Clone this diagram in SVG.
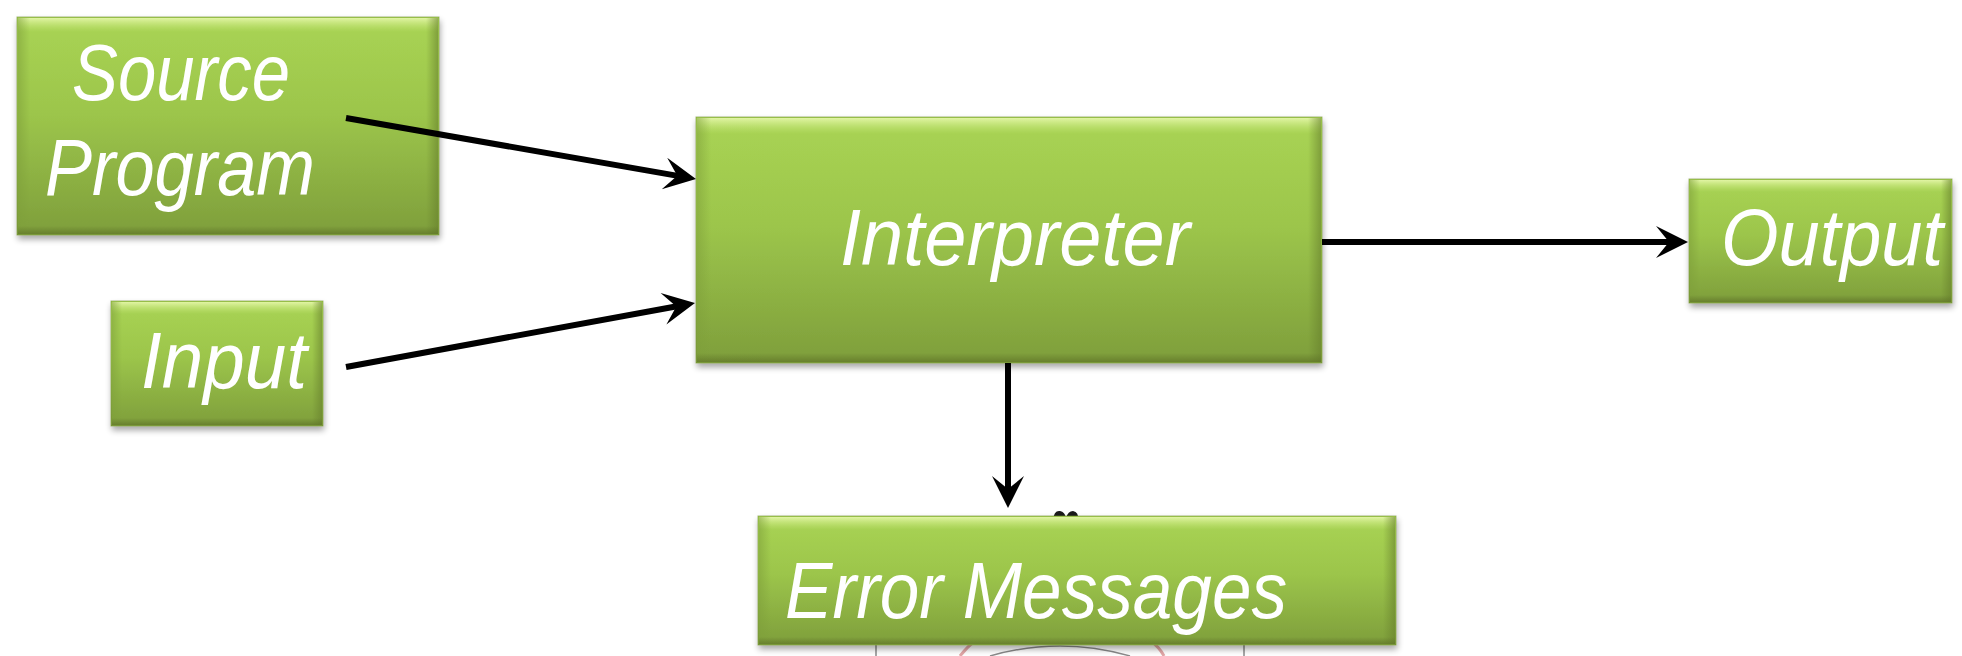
<svg xmlns="http://www.w3.org/2000/svg" width="1962" height="656" viewBox="0 0 1962 656">
  <style>
    .box { fill: url(#boxFill); stroke: #6f8c32; stroke-width: 1; stroke-opacity: 0.6; filter: url(#dropShadow); }
    .bevelTop { fill: url(#bevelTop); }
    .bevelLeft { fill: url(#bevelLeft); }
    .bevelRight { fill: url(#bevelRight); }
    .bevelBottom { fill: url(#bevelBottom); }
    .label { fill: #ffffff; font-family: "Liberation Sans", Arial, sans-serif; font-style: italic; font-size: 80px; }
    .wire { fill: none; stroke: #000000; stroke-width: 6; marker-end: url(#stealth); }
    .scrap { fill: none; stroke: #8a8a8a; stroke-width: 1.5; }
  </style>
  <defs>
    <linearGradient id="boxFill" x1="0" y1="0" x2="0" y2="1">
      <stop offset="0" stop-color="#a9d454"/>
      <stop offset="0.45" stop-color="#9cc54b"/>
      <stop offset="1" stop-color="#7e9e3b"/>
    </linearGradient>
    <linearGradient id="bevelTop" x1="0" y1="0" x2="0" y2="1">
      <stop offset="0" stop-color="#e4f6a8" stop-opacity="0.95"/>
      <stop offset="1" stop-color="#c6e879" stop-opacity="0"/>
    </linearGradient>
    <linearGradient id="bevelLeft" x1="0" y1="0" x2="1" y2="0">
      <stop offset="0" stop-color="#7e9f3a" stop-opacity="0.55"/>
      <stop offset="1" stop-color="#7e9f3a" stop-opacity="0"/>
    </linearGradient>
    <linearGradient id="bevelRight" x1="1" y1="0" x2="0" y2="0">
      <stop offset="0" stop-color="#667f2c" stop-opacity="0.6"/>
      <stop offset="1" stop-color="#667f2c" stop-opacity="0"/>
    </linearGradient>
    <linearGradient id="bevelBottom" x1="0" y1="1" x2="0" y2="0">
      <stop offset="0" stop-color="#5f7428" stop-opacity="0.7"/>
      <stop offset="1" stop-color="#5f7428" stop-opacity="0"/>
    </linearGradient>
    <filter id="dropShadow" x="-5%" y="-10%" width="110%" height="125%">
      <feGaussianBlur in="SourceAlpha" stdDeviation="3"/>
      <feOffset dx="1" dy="4" result="blur"/>
      <feComponentTransfer><feFuncA type="linear" slope="0.35"/></feComponentTransfer>
      <feMerge><feMergeNode/><feMergeNode in="SourceGraphic"/></feMerge>
    </filter>
    <!-- notched arrowhead; tip sits 14px past the path end -->
    <marker id="stealth" markerUnits="userSpaceOnUse" viewBox="-20 -17 36 34" refX="0" refY="0" markerWidth="36" markerHeight="34" orient="auto" overflow="visible">
      <path d="M14,0 L-18,-16 L-5,0 L-18,16 Z" fill="#000000"/>
    </marker>
  </defs>

  <rect width="1962" height="656" fill="#ffffff"/>

  <!-- fragments of a figure peeking out behind the error box -->
  <g id="backdrop">
    <path class="scrap" d="M876,640 L876,656 M1244,640 L1244,656"/>
    <path class="scrap" d="M990,656 Q1060,636 1130,656" stroke="#9a9a9a"/>
    <path d="M960,656 Q968,646 976,640" fill="none" stroke="#e2a7a7" stroke-width="3"/>
    <path d="M1150,640 Q1160,648 1164,656" fill="none" stroke="#e2a7a7" stroke-width="3"/>
    <path d="M1053,520 Q1054,510 1060,511 Q1065,512 1066,518 Q1068,511 1073,511 Q1079,512 1078,520 Z" fill="#1a1a1a"/>
  </g>

  <g id="node-source">
    <rect class="box" x="17" y="17" width="422" height="218"/>
    <rect class="bevelTop" x="18" y="18" width="420" height="14"/>
    <rect class="bevelLeft" x="18" y="18" width="12" height="216"/>
    <rect class="bevelRight" x="426" y="18" width="12" height="216"/>
    <rect class="bevelBottom" x="18" y="226" width="420" height="8"/>
    <text class="label" x="72" y="100" textLength="218" lengthAdjust="spacingAndGlyphs">Source</text>
    <text class="label" x="45" y="195" textLength="270" lengthAdjust="spacingAndGlyphs">Program</text>
  </g>

  <g id="node-input">
    <rect class="box" x="111" y="301" width="212" height="125"/>
    <rect class="bevelTop" x="112" y="302" width="210" height="12"/>
    <rect class="bevelLeft" x="112" y="302" width="10" height="123"/>
    <rect class="bevelRight" x="312" y="302" width="10" height="123"/>
    <rect class="bevelBottom" x="112" y="418" width="210" height="7"/>
    <text class="label" x="141" y="388" textLength="166" lengthAdjust="spacingAndGlyphs">Input</text>
  </g>

  <g id="node-interpreter">
    <rect class="box" x="696" y="117" width="626" height="246"/>
    <rect class="bevelTop" x="697" y="118" width="624" height="16"/>
    <rect class="bevelLeft" x="697" y="118" width="14" height="244"/>
    <rect class="bevelRight" x="1308" y="118" width="13" height="244"/>
    <rect class="bevelBottom" x="697" y="353" width="624" height="9"/>
    <text class="label" x="840" y="265" textLength="350" lengthAdjust="spacingAndGlyphs">Interpreter</text>
  </g>

  <g id="node-output">
    <rect class="box" x="1689" y="179" width="263" height="124"/>
    <rect class="bevelTop" x="1690" y="180" width="261" height="12"/>
    <rect class="bevelLeft" x="1690" y="180" width="10" height="122"/>
    <rect class="bevelRight" x="1941" y="180" width="10" height="122"/>
    <rect class="bevelBottom" x="1690" y="295" width="261" height="7"/>
    <text class="label" x="1721" y="265" textLength="222" lengthAdjust="spacingAndGlyphs">Output</text>
  </g>

  <g id="node-errors">
    <rect class="box" x="758" y="516" width="638" height="129"/>
    <rect class="bevelTop" x="759" y="517" width="636" height="13"/>
    <rect class="bevelLeft" x="759" y="517" width="12" height="127"/>
    <rect class="bevelRight" x="1383" y="517" width="12" height="127"/>
    <rect class="bevelBottom" x="759" y="637" width="636" height="7"/>
    <text class="label" x="785" y="618" font-size="78" textLength="502" lengthAdjust="spacingAndGlyphs">Error  Messages</text>
  </g>

  <g id="connectors">
    <path class="wire" d="M346,118 L682.2,176.6"/>
    <path class="wire" d="M346,367 L681.2,305.5"/>
    <path class="wire" d="M1322,242 L1674,242"/>
    <path class="wire" d="M1008,363 L1008,494"/>
  </g>
</svg>
